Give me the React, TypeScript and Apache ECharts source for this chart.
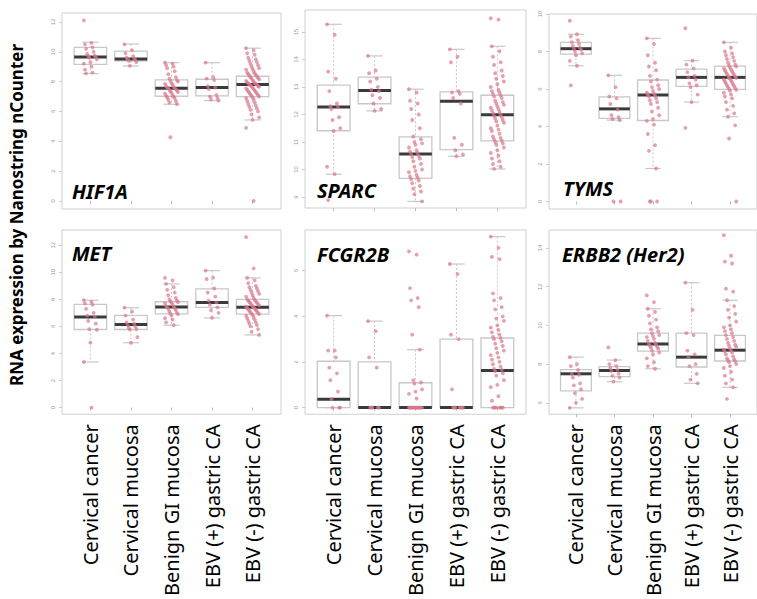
import React, { useEffect, useRef } from "react";
import * as echarts from "echarts";

const CATEGORIES = ["Cervical cancer", "Cervical mucosa", "Benign GI mucosa", "EBV (+) gastric CA", "EBV (-) gastric CA"];
const GENES = ["HIF1A", "SPARC", "TYMS", "MET", "FCGR2B", "ERBB2 (Her2)"];
const Y_TITLE = "RNA expression by Nanostring nCounter";

// box stats: [min whisker, Q1, median, Q3, max whisker]
const hif1aBox = [[8.54, 9.16, 9.65, 10.3, 10.64], [9.05, 9.39, 9.52, 10.05, 10.52], [6.48, 7.02, 7.55, 8.11, 9.27], [6.73, 7.04, 7.6, 8.16, 9.27], [5.43, 6.99, 7.8, 8.36, 10.24]];
const sparcBox = [[9.83, 11.41, 12.27, 13.07, 15.28], [12.13, 12.39, 12.87, 13.36, 14.13], [8.84, 9.68, 10.56, 11.19, 12.92], [10.48, 10.72, 12.48, 12.82, 14.37], [10.02, 11.04, 11.99, 12.7, 14.48]];
const tymsBox = [[7.24, 7.86, 8.15, 8.49, 8.92], [4.34, 4.43, 4.94, 5.58, 6.73], [1.76, 4.32, 5.68, 6.48, 8.7], [5.3, 6.14, 6.62, 7.06, 7.51], [4.52, 5.98, 6.62, 7.22, 8.49]];
const metBox = [[3.37, 5.77, 6.7, 7.63, 7.93], [4.79, 5.77, 6.14, 6.82, 7.38], [6.09, 6.93, 7.44, 7.82, 9.14], [6.63, 7.4, 7.77, 8.77, 10.12], [5.37, 6.91, 7.42, 8.0, 9.58]];
const fcgrBox = [[0, 0, 0.37, 2.03, 4.03], [0, 0, 0, 2.0, 3.79], [0, 0, 0, 1.09, 2.54], [0, 0, 0, 3.0, 6.29], [0, 0, 1.63, 3.05, 7.49]];
const erbbBox = [[5.74, 6.62, 7.5, 7.72, 8.36], [7.09, 7.35, 7.67, 7.87, 8.21], [7.76, 8.67, 9.04, 9.6, 10.86], [7.01, 7.85, 8.36, 9.6, 12.21], [6.8, 8.16, 8.72, 9.48, 11.3]];

// individual sample values per group
const hif1aPts = [
  [12.1, 10.6, 10.5, 10.3, 10.2, 10.0, 9.85, 9.75, 9.7, 9.65, 9.6, 9.5, 9.3, 9.2, 9.0, 8.8, 8.6, 8.55],
  [10.5, 10.1, 9.9, 9.7, 9.6, 9.55, 9.5, 9.45, 9.4, 9.3, 9.05],
  [9.27, 9.2, 9.1, 9.0, 8.9, 8.7, 8.5, 8.3, 8.2, 8.1, 8.05, 8.0, 7.9, 7.85, 7.8, 7.7, 7.65, 7.6, 7.55, 7.55, 7.5, 7.45, 7.4, 7.35, 7.3, 7.25, 7.2, 7.1, 7.05, 7.0, 6.95, 6.9, 6.8, 6.7, 6.6, 6.5, 4.27],
  [9.27, 8.3, 8.2, 8.1, 7.7, 7.6, 7.5, 7.1, 7.0, 6.9, 6.8, 6.73],
  [10.24, 10.1, 9.9, 9.8, 9.6, 9.5, 9.4, 9.3, 9.2, 9.1, 9.0, 8.9, 8.85, 8.8, 8.7, 8.6, 8.55, 8.5, 8.45, 8.4, 8.35, 8.3, 8.25, 8.2, 8.15, 8.1, 8.05, 8.0, 7.95, 7.9, 7.9, 7.85, 7.8, 7.8, 7.75, 7.7, 7.7, 7.65, 7.6, 7.55, 7.5, 7.45, 7.4, 7.35, 7.3, 7.25, 7.2, 7.15, 7.1, 7.05, 7.0, 6.95, 6.9, 6.8, 6.7, 6.6, 6.5, 6.4, 6.3, 6.2, 6.1, 6.0, 5.8, 5.6, 5.43, 4.9, 0.0],
];
const sparcPts = [
  [15.28, 14.9, 13.56, 13.3, 12.85, 12.4, 12.3, 12.27, 12.2, 11.9, 11.8, 11.5, 11.4, 10.1, 9.83, 8.89],
  [14.13, 13.6, 13.5, 13.3, 13.2, 13.0, 12.9, 12.85, 12.7, 12.6, 12.4, 12.2, 12.13],
  [12.92, 12.8, 12.5, 12.4, 12.2, 12.0, 11.8, 11.5, 11.2, 11.1, 11.0, 10.95, 10.9, 10.8, 10.7, 10.65, 10.6, 10.55, 10.5, 10.45, 10.4, 10.3, 10.2, 10.1, 10.0, 9.95, 9.9, 9.8, 9.75, 9.7, 9.65, 9.6, 9.5, 9.4, 9.3, 9.2, 9.1, 8.84],
  [14.37, 14.1, 13.9, 12.85, 12.8, 12.75, 12.6, 12.4, 11.15, 10.9, 10.7, 10.55, 10.48],
  [15.5, 15.45, 14.48, 14.3, 14.1, 13.9, 13.8, 13.6, 13.5, 13.4, 13.3, 13.2, 13.1, 13.0, 12.9, 12.85, 12.8, 12.75, 12.7, 12.65, 12.6, 12.5, 12.45, 12.4, 12.35, 12.3, 12.25, 12.2, 12.15, 12.1, 12.05, 12.0, 11.95, 11.9, 11.85, 11.8, 11.75, 11.7, 11.6, 11.5, 11.45, 11.4, 11.3, 11.2, 11.15, 11.1, 11.05, 11.0, 10.95, 10.9, 10.8, 10.7, 10.6, 10.5, 10.4, 10.3, 10.2, 10.1, 10.02],
];
const tymsPts = [
  [9.64, 8.92, 8.8, 8.6, 8.5, 8.4, 8.3, 8.2, 8.15, 8.1, 8.0, 7.9, 7.8, 7.5, 7.24, 6.19],
  [6.73, 6.1, 5.6, 5.5, 5.2, 4.9, 4.6, 4.5, 4.4, 4.34, 0, 0],
  [8.7, 8.4, 7.8, 7.4, 7.2, 7.0, 6.7, 6.5, 6.4, 6.2, 6.1, 6.0, 5.9, 5.8, 5.75, 5.7, 5.65, 5.6, 5.5, 5.4, 5.3, 5.2, 5.0, 4.8, 4.6, 4.4, 4.3, 4.1, 3.6, 3.0, 2.7, 1.76, 0, 0, 0],
  [9.24, 7.51, 7.3, 7.1, 6.9, 6.7, 6.62, 6.5, 6.3, 6.2, 6.1, 5.7, 5.3, 3.93],
  [8.49, 8.2, 8.0, 7.9, 7.8, 7.7, 7.6, 7.5, 7.4, 7.3, 7.25, 7.2, 7.15, 7.1, 7.05, 7.0, 6.95, 6.9, 6.85, 6.8, 6.75, 6.7, 6.65, 6.6, 6.6, 6.55, 6.5, 6.45, 6.4, 6.35, 6.3, 6.25, 6.2, 6.15, 6.1, 6.05, 6.0, 5.95, 5.9, 5.8, 5.7, 5.6, 5.5, 5.3, 5.1, 4.9, 4.7, 4.52, 4.06, 3.36, 0],
];
const metPts = [
  [7.93, 7.8, 7.7, 7.6, 7.3, 7.0, 6.8, 6.7, 6.4, 6.2, 5.8, 5.75, 4.8, 3.37, 0],
  [7.38, 7.1, 6.8, 6.5, 6.3, 6.2, 6.1, 6.0, 5.9, 5.8, 5.77, 5.2, 4.79],
  [9.58, 9.4, 9.14, 8.9, 8.7, 8.5, 8.3, 8.1, 8.0, 7.9, 7.85, 7.8, 7.75, 7.7, 7.6, 7.5, 7.45, 7.4, 7.35, 7.3, 7.2, 7.1, 7.0, 6.95, 6.9, 6.8, 6.6, 6.5, 6.3, 6.09],
  [10.12, 9.6, 9.5, 8.8, 8.5, 8.2, 7.9, 7.77, 7.6, 7.4, 7.2, 7.0, 6.63],
  [12.6, 10.28, 9.58, 9.4, 9.2, 9.0, 8.9, 8.8, 8.7, 8.6, 8.5, 8.4, 8.3, 8.2, 8.1, 8.0, 7.95, 7.9, 7.85, 7.8, 7.75, 7.7, 7.65, 7.6, 7.55, 7.5, 7.45, 7.4, 7.35, 7.3, 7.25, 7.2, 7.15, 7.1, 7.05, 7.0, 6.95, 6.9, 6.85, 6.8, 6.7, 6.6, 6.5, 6.4, 6.3, 6.2, 6.1, 6.0, 5.8, 5.6, 5.37],
];
const fcgrPts = [
  [4.03, 2.5, 2.5, 2.2, 1.75, 1.5, 1.2, 0.7, 0.37, 0, 0, 0],
  [3.79, 3.35, 2.2, 1.75, 0, 0, 0, 0, 0],
  [6.84, 6.7, 5.23, 4.8, 4.7, 4.4, 3.2, 2.54, 1.2, 1.1, 1.05, 0.8, 0.7, 0.6, 0.4, 0, 0, 0, 0, 0, 0, 0, 0, 0, 0, 0, 0, 0, 0, 0],
  [6.29, 5.85, 3.2, 3.0, 0.8, 0, 0, 0, 0, 0, 0, 0],
  [7.49, 7.0, 6.6, 6.5, 5.0, 4.8, 4.7, 4.4, 4.3, 4.0, 3.9, 3.8, 3.6, 3.5, 3.4, 3.3, 3.2, 3.1, 3.05, 3.0, 2.9, 2.8, 2.7, 2.6, 2.5, 2.4, 2.3, 2.2, 2.1, 2.0, 1.9, 1.8, 1.7, 1.65, 1.6, 1.5, 1.4, 1.2, 1.0, 0.9, 0.5, 0.3, 0, 0, 0, 0, 0, 0, 0, 0],
];
const erbbPts = [
  [8.36, 8.0, 7.9, 7.7, 7.5, 7.45, 7.3, 7.0, 6.9, 6.7, 6.5, 6.2, 6.0, 5.74],
  [8.86, 8.21, 8.0, 7.9, 7.8, 7.7, 7.65, 7.5, 7.4, 7.3, 7.09],
  [11.55, 11.2, 10.86, 10.7, 10.5, 10.3, 10.1, 9.9, 9.8, 9.7, 9.6, 9.5, 9.45, 9.4, 9.3, 9.2, 9.1, 9.05, 9.0, 8.95, 8.9, 8.85, 8.8, 8.7, 8.6, 8.5, 8.3, 8.1, 7.9, 7.76],
  [12.21, 10.8, 9.6, 9.5, 8.7, 8.5, 8.36, 8.0, 7.9, 7.5, 7.2, 7.01],
  [14.66, 13.6, 13.3, 13.2, 11.9, 11.75, 11.3, 11.0, 10.8, 10.6, 10.4, 10.2, 10.0, 9.9, 9.8, 9.7, 9.6, 9.5, 9.4, 9.3, 9.2, 9.1, 9.0, 8.95, 8.9, 8.8, 8.75, 8.7, 8.65, 8.6, 8.5, 8.4, 8.3, 8.25, 8.2, 8.15, 8.1, 8.0, 7.9, 7.8, 7.6, 7.4, 7.2, 7.0, 6.8, 6.2],
];

// y tick labels per panel
const hif1aTicks = [0, 2, 4, 6, 8, 10, 12];
const sparcTicks = [9, 10, 11, 12, 13, 14, 15];
const tymsTicks = [0, 2, 4, 6, 8, 10];
const metTicks = [0, 2, 4, 6, 8, 10, 12];
const fcgrTicks = [0, 2, 4, 6];
const erbbTicks = [6, 8, 10, 12, 14];

const PANELS = [
  { box: hif1aBox, pts: hif1aPts, ticks: hif1aTicks, yMin: -0.54, yMax: 12.6, grid: { left: 62, top: 13, width: 219, height: 196 }, label: [72, 191], bottom: false },
  { box: sparcBox, pts: sparcPts, ticks: sparcTicks, yMin: 8.6, yMax: 15.8, grid: { left: 305, top: 10, width: 221, height: 198 }, label: [317, 190], bottom: false },
  { box: tymsBox, pts: tymsPts, ticks: tymsTicks, yMin: -0.4, yMax: 10.0, grid: { left: 549, top: 14, width: 219, height: 195 }, label: [563, 188], bottom: false },
  { box: metBox, pts: metPts, ticks: metTicks, yMin: -0.49, yMax: 13.12, grid: { left: 62, top: 230, width: 219, height: 195 }, label: [72, 253], bottom: true },
  { box: fcgrBox, pts: fcgrPts, ticks: fcgrTicks, yMin: -0.29, yMax: 7.78, grid: { left: 305, top: 230, width: 221, height: 195 }, label: [317, 254], bottom: true },
  { box: erbbBox, pts: erbbPts, ticks: erbbTicks, yMin: 5.41, yMax: 14.93, grid: { left: 549, top: 230, width: 219, height: 195 }, label: [562, 254], bottom: true },
];

const jitter = (j: number) => ((((j * 7) % 13) - 6) / 6) * 0.16;

export default function App() {
  const ref = useRef<HTMLDivElement>(null);
  useEffect(() => {
    document.body.style.margin = "0";
    const chart = echarts.init(ref.current!, null, { renderer: "svg" });
    const grids: any[] = [];
    const xAxes: any[] = [];
    const yAxes: any[] = [];
    const series: any[] = [];
    const graphics: any[] = [];
    PANELS.forEach((p, k) => {
      grids.push({ ...p.grid, show: true, borderColor: "#cfcfcf", borderWidth: 1, backgroundColor: "transparent" });
      xAxes.push({
        type: "value", gridIndex: k, min: 0.3, max: 5.7,
        axisLine: { show: false }, splitLine: { show: false },
        axisTick: { show: true, customValues: [1, 2, 3, 4, 5], length: 3, lineStyle: { color: "#bbb" } },
        axisLabel: p.bottom
          ? { show: true, customValues: [1, 2, 3, 4, 5], rotate: 90, margin: 10, fontSize: 20, color: "#000", fontFamily: "Noto Sans",
              formatter: (v: number) => CATEGORIES[Math.round(v) - 1] }
          : { show: false },
      });
      yAxes.push({
        type: "value", gridIndex: k, min: p.yMin, max: p.yMax,
        axisLine: { show: false }, splitLine: { show: false },
        axisTick: { show: true, customValues: p.ticks, length: 3, lineStyle: { color: "#ccc" } },
        axisLabel: { show: true, customValues: p.ticks, rotate: 90, fontSize: 6, color: "#999", margin: 6 },
      });
      series.push({
        type: "custom", xAxisIndex: k, yAxisIndex: k, z: 2,
        encode: { x: 0, y: [1, 2, 3, 4, 5] },
        data: p.box.map((b, i) => [i + 1, ...b]),
        renderItem: (params: any, api: any) => {
          const x = api.value(0);
          const lo = api.value(1), q1 = api.value(2), med = api.value(3), q3 = api.value(4), hi = api.value(5);
          const hw = 0.4, cw = 0.2;
          const tl = api.coord([x - hw, q3]);
          const br = api.coord([x + hw, q1]);
          const mL = api.coord([x - hw, med]);
          const mR = api.coord([x + hw, med]);
          const pHi = api.coord([x, hi]);
          const pQ3 = api.coord([x, q3]);
          const pQ1 = api.coord([x, q1]);
          const pLo = api.coord([x, lo]);
          const cHL = api.coord([x - cw, hi]);
          const cHR = api.coord([x + cw, hi]);
          const cLL = api.coord([x - cw, lo]);
          const cLR = api.coord([x + cw, lo]);
          const gray = "#c8c8c8";
          return {
            type: "group",
            children: [
              { type: "line", shape: { x1: pHi[0], y1: pHi[1], x2: pQ3[0], y2: pQ3[1] }, style: { stroke: gray, lineWidth: 1, lineDash: [2, 2] } },
              { type: "line", shape: { x1: pQ1[0], y1: pQ1[1], x2: pLo[0], y2: pLo[1] }, style: { stroke: gray, lineWidth: 1, lineDash: [2, 2] } },
              { type: "line", shape: { x1: cHL[0], y1: cHL[1], x2: cHR[0], y2: cHR[1] }, style: { stroke: gray, lineWidth: 1.2 } },
              { type: "line", shape: { x1: cLL[0], y1: cLL[1], x2: cLR[0], y2: cLR[1] }, style: { stroke: gray, lineWidth: 1.2 } },
              { type: "rect", shape: { x: tl[0], y: tl[1], width: br[0] - tl[0], height: br[1] - tl[1] }, style: { fill: "none", stroke: gray, lineWidth: 1.3 } },
              { type: "line", shape: { x1: mL[0], y1: mL[1], x2: mR[0], y2: mR[1] }, style: { stroke: "#3a3a3a", lineWidth: 3 } },
            ],
          };
        },
      });
      const pts: number[][] = [];
      p.pts.forEach((grp, i) => grp.forEach((v, j) => pts.push([i + 1 + jitter(j), v])));
      series.push({
        type: "scatter", xAxisIndex: k, yAxisIndex: k, z: 3,
        symbolSize: 3.8, data: pts,
        itemStyle: { color: "#d9788b", opacity: 0.7 },
      });
      graphics.push({
        type: "text", x: p.label[0], y: p.label[1],
        style: { text: GENES[k], fontSize: 20, fontWeight: "bold", fontStyle: "italic", fontFamily: "Noto Sans", fill: "#000", verticalAlign: "middle", align: "left" },
      });
    });
    graphics.push({
      type: "text", x: 16, y: 215, rotation: Math.PI / 2,
      style: { text: Y_TITLE, fontSize: 17, fontWeight: "bold", fontFamily: "Noto Sans", fill: "#000", align: "center", verticalAlign: "middle" },
    });
    chart.setOption({
      animation: false,
      backgroundColor: "#fff",
      grid: grids,
      xAxis: xAxes,
      yAxis: yAxes,
      series,
      graphic: graphics,
    });
    return () => chart.dispose();
  }, []);
  return <div ref={ref} style={{ width: 757, height: 599 }} />;
}
